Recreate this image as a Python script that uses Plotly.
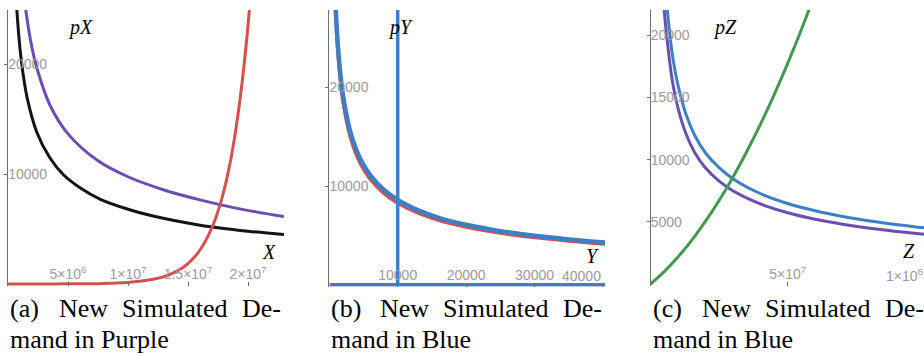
import plotly.graph_objects as go

# ---------------- data: panel (a) ----------------
a_old_x = [0.6e6, 0.725e6, 1.0e6, 1.25e6, 1.6e6, 2.4e6, 3.5e6, 4.6e6, 6.0e6, 7.7e6, 1.0e7, 1.2e7, 1.6e7, 2.0e7, 2.3e7]
a_old_p = [27600, 25100, 21400, 19150, 16900, 13800, 11450, 9950, 8750, 7700, 6800, 6200, 5350, 4800, 4500]
a_new_x = [1.15e6, 1.42e6, 2.0e6, 2.4e6, 3.5e6, 5.0e6, 7.5e6, 1.0e7, 1.3e7, 1.6e7, 1.9e7, 2.3e7]
a_new_p = [28300, 25400, 21450, 19650, 16250, 13650, 11200, 9750, 8550, 7650, 6900, 6130]
a_sup_x = [0, 4e6, 8e6, 1.0e7, 1.1e7, 1.2e7, 1.3e7, 1.4e7, 1.5e7, 1.6e7, 1.7e7, 1.75e7, 1.8e7, 1.85e7, 1.9e7, 1.95e7, 2.0e7, 2.05e7]
a_sup_p = [0, 10, 55, 145, 245, 405, 675, 1120, 1860, 3090, 5130, 6600, 8500, 10950, 14150, 18250, 23500, 30300]
a_xticks = [5e6, 1e7, 1.5e7, 2e7]
a_xticktext = ["5×10<sup>6</sup>", "1×10<sup>7</sup>", "1.5×10<sup>7</sup>", "2×10<sup>7</sup>"]
a_yticks = [10000, 20000]
a_yticktext = ["10000", "20000"]

# ---------------- data: panel (b) ----------------
b_y = [800, 949, 1200, 1600, 2000, 3000, 4000, 5000, 6000, 8000, 10000, 13000, 16000, 20000, 25000, 30000, 35000, 40300]
b_blue_p = [30340, 27850, 24770, 21450, 19190, 15670, 13570, 12130, 11080, 9590, 8580, 7530, 6780, 6070, 5430, 4950, 4590, 4270]
b_red_p = [29130, 26740, 23780, 20590, 18420, 15040, 13030, 11640, 10640, 9210, 8240, 7230, 6510, 5830, 5210, 4750, 4410, 4100]
b_supply_y = 10000
b_supply_floor_x = [0, 40300]
b_supply_floor_p = [0, 0]
b_supply_vert_p = [0, 30000]
b_xticks = [10000, 20000, 30000, 40000]
b_xticktext = ["10000", "20000", "30000", " "]
b_last_tick = 40000
b_yticks = [10000, 20000]
b_yticktext = ["10000", "20000"]

# ---------------- data: panel (c) ----------------
c_z = [4.5e6, 5e6, 6e6, 8e6, 1e7, 1.3e7, 1.6e7, 2e7, 2.5e7, 3e7, 4e7, 5e7, 6e7, 7e7, 8e7, 9e7, 1e8]
c_blue_p = [26500, 24800, 22300, 18400, 16000, 13600, 12000, 10550, 9350, 8470, 7275, 6470, 5885, 5430, 5070, 4770, 4510]
c_purple_p = [23450, 21950, 19740, 16280, 14160, 12040, 10620, 9340, 8270, 7500, 6440, 5730, 5210, 4810, 4480, 4220, 3990]
c_green_z = [0, 5e6, 1e7, 1.5e7, 2e7, 2.5e7, 3e7, 3.5e7, 4e7, 4.5e7, 5e7, 5.5e7, 6e7]
c_green_p = [0, 1000, 2170, 3510, 5030, 6710, 8570, 10610, 12810, 15190, 17740, 20460, 23350]
c_xticks = [5e7]
c_xticktext = ["5×10<sup>7</sup>"]
c_last_label = "1×10<sup>8</sup>"
c_yticks = [5000, 10000, 15000, 20000]
c_yticktext = ["5000", "10000", "15000", "20000"]

# ---------------- captions / labels ----------------
captions_line1 = [["(a)", "New", "Simulated", "De-"],
                  ["(b)", "New", "Simulated", "De-"],
                  ["(c)", "New", "Simulated", "De-"]]
captions_line2 = ["mand in Purple", "mand in Blue", "mand in Blue"]
axis_y_labels = ["pX", "pY", "pZ"]
axis_x_labels = ["X", "Y", "Z"]

# ---------------- styling ----------------
W, H = 924, 356
PURPLE = "#6a4fb2"
BLACK = "#141414"
RED = "#d2524f"
BLUE = "#3f7ec4"
GREEN = "#43994f"
AXIS = "#6e6e6e"
TICKFONT = dict(family="Liberation Sans, Arial, sans-serif", size=14, color="#9a9a9a")
SERIF = "Liberation Serif, Times New Roman, serif"


def fx(p):
    return p / W


def fy(p):
    return 1 - p / H


# panel geometry (pixels): x-left, x-right, y-top, y-bottom; data ranges
panels = [
    dict(xd=(8, 284), yd=(10, 286), xr=[0, 2.3e7], yr=[-182, 24909]),
    dict(xd=(329.3, 605), yd=(10, 286.7), xr=[0, 40300], yr=[-203, 27832]),
    dict(xd=(650.5, 924), yd=(10, 286), xr=[0, 9.967e7], yr=[-161, 22026]),
]

fig = go.Figure()

# panel (a)
fig.add_trace(go.Scatter(x=a_old_x, y=a_old_p, mode="lines", line=dict(color=BLACK, width=3, shape="spline"), xaxis="x", yaxis="y"))
fig.add_trace(go.Scatter(x=a_new_x, y=a_new_p, mode="lines", line=dict(color=PURPLE, width=3, shape="spline"), xaxis="x", yaxis="y"))
fig.add_trace(go.Scatter(x=a_sup_x, y=a_sup_p, mode="lines", line=dict(color=RED, width=3, shape="spline"), xaxis="x", yaxis="y"))

# panel (b)
fig.add_trace(go.Scatter(x=b_y, y=b_red_p, mode="lines", line=dict(color=RED, width=3, shape="spline"), xaxis="x2", yaxis="y2"))
fig.add_trace(go.Scatter(x=b_y, y=b_blue_p, mode="lines", line=dict(color=BLUE, width=4.5, shape="spline"), xaxis="x2", yaxis="y2"))
fig.add_trace(go.Scatter(x=[b_supply_y, b_supply_y], y=b_supply_vert_p, mode="lines", line=dict(color=BLUE, width=3.5), xaxis="x2", yaxis="y2"))
fig.add_trace(go.Scatter(x=b_supply_floor_x, y=b_supply_floor_p, mode="lines", line=dict(color=BLUE, width=3.5), xaxis="x2", yaxis="y2"))

# panel (c)
fig.add_trace(go.Scatter(x=c_z, y=c_purple_p, mode="lines", line=dict(color=PURPLE, width=3, shape="spline"), xaxis="x3", yaxis="y3"))
fig.add_trace(go.Scatter(x=c_z, y=c_blue_p, mode="lines", line=dict(color=BLUE, width=3, shape="spline"), xaxis="x3", yaxis="y3"))
fig.add_trace(go.Scatter(x=c_green_z, y=c_green_p, mode="lines", line=dict(color=GREEN, width=3, shape="spline"), xaxis="x3", yaxis="y3"))

xt = [(a_xticks, a_xticktext), (b_xticks, b_xticktext), (c_xticks, c_xticktext)]
yt = [(a_yticks, a_yticktext), (b_yticks, b_yticktext), (c_yticks, c_yticktext)]

layout = dict(
    width=W, height=H, margin=dict(l=0, r=0, t=0, b=0),
    paper_bgcolor="white", plot_bgcolor="white", showlegend=False,
)
for i, p in enumerate(panels):
    sx = "" if i == 0 else str(i + 1)
    layout["xaxis" + sx] = dict(
        domain=[fx(p["xd"][0]), fx(p["xd"][1])], range=p["xr"], anchor="y" + sx,
        showgrid=False, zeroline=False, showline=False,
        ticks="inside", ticklen=4, tickcolor=AXIS, tickwidth=1,
        tickvals=xt[i][0], ticktext=xt[i][1], ticklabelposition="inside",
        tickfont=TICKFONT, fixedrange=True,
    )
    layout["yaxis" + sx] = dict(
        domain=[fy(p["yd"][1]), fy(p["yd"][0])], range=p["yr"], anchor="x" + sx,
        showgrid=False, zeroline=(i != 1), zerolinecolor=AXIS, zerolinewidth=1,
        showline=True, linecolor=AXIS, linewidth=1,
        ticks="outside", ticklen=3, tickcolor=AXIS, tickwidth=1,
        tickvals=yt[i][0], ticktext=yt[i][1], ticklabelposition="inside",
        tickfont=TICKFONT, fixedrange=True,
    )

annotations = []
# axis labels
ylab_pos = [(80, 27), (400, 28), (725, 28)]
xlab_pos = [(269, 252), (592, 256), (909, 251)]
for i in range(3):
    annotations.append(dict(text="<i>%s</i>" % axis_y_labels[i], xref="paper", yref="paper",
                            x=fx(ylab_pos[i][0]), y=fy(ylab_pos[i][1]), xanchor="center", yanchor="middle",
                            showarrow=False, font=dict(family=SERIF, size=20, color="black")))
    annotations.append(dict(text="<i>%s</i>" % axis_x_labels[i], xref="paper", yref="paper",
                            x=fx(xlab_pos[i][0]), y=fy(xlab_pos[i][1]), xanchor="center", yanchor="middle",
                            showarrow=False, font=dict(family=SERIF, size=20, color="black")))

# edge tick labels that were pulled inside the frame
annotations.append(dict(text=str(b_last_tick), xref="x2", yref="paper", x=b_last_tick, y=fy(276),
                        xanchor="right", yanchor="middle", showarrow=False, font=TICKFONT))
annotations.append(dict(text=c_last_label, xref="paper", yref="paper", x=fx(926), y=fy(275),
                        xanchor="right", yanchor="middle", showarrow=False, font=TICKFONT))

# captions (justified first line)
word_offsets = [0, 49, 112]
CAPFONT = dict(family=SERIF, size=26, color="black")
for i, p in enumerate(panels):
    left = p["xd"][0]
    right = left + 275
    words = captions_line1[i]
    for w, off in zip(words[:3], word_offsets):
        annotations.append(dict(text=w, xref="paper", yref="paper", x=fx(left + off), y=fy(308),
                                xanchor="left", yanchor="middle", showarrow=False, font=CAPFONT))
    annotations.append(dict(text=words[3], xref="paper", yref="paper", x=fx(right), y=fy(308),
                            xanchor="right", yanchor="middle", showarrow=False, font=CAPFONT))
    annotations.append(dict(text=captions_line2[i], xref="paper", yref="paper", x=fx(left), y=fy(339),
                            xanchor="left", yanchor="middle", showarrow=False, font=CAPFONT))

layout["annotations"] = annotations
fig.update_layout(**layout)

fig.write_html("out.html", config={"displayModeBar": False},
               post_script="document.body.style.margin='0';")
